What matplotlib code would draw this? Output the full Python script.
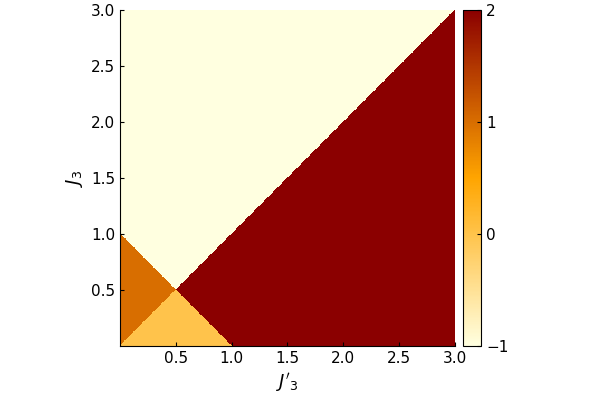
import numpy as np
import matplotlib
matplotlib.use("Agg")
import matplotlib.pyplot as plt
from matplotlib.colors import LinearSegmentedColormap

# Grid of parameter values
J3p = np.arange(0.005, 3.0, 0.01)   # x axis: J'_3
J3 = np.arange(0.005, 3.0, 0.01)    # y axis: J_3

# Phase labels
phase_values = [-1, 0, 1, 2]  # upper-left, lower-small, left-small, lower-right

def phase(x, y):
    if x + y < 1:
        return phase_values[2] if y > x else phase_values[1]
    return phase_values[0] if y > x else phase_values[3]

Z = np.array([[phase(x, y) for x in J3p] for y in J3])

heat = LinearSegmentedColormap.from_list(
    "heat", ["#FFFFE0", "#FFA500", "#8B0000"])

fig = plt.figure(figsize=(6, 4), dpi=100)
ax = fig.add_axes([0.2, 0.135, 0.5583, 0.84])
mesh = ax.pcolormesh(J3p, J3, Z, cmap=heat, vmin=-1, vmax=2, shading="nearest")
ax.set_xlim(0, 3)
ax.set_ylim(0, 3)
ax.set_xticks([0.5, 1.0, 1.5, 2.0, 2.5, 3.0])
ax.set_yticks([0.5, 1.0, 1.5, 2.0, 2.5, 3.0])
ax.tick_params(direction="in", labelsize=11, length=3)
for s in ["top", "right"]:
    ax.spines[s].set_visible(False)
ax.set_xlabel(r"$J'_3$", fontsize=13)
ax.set_ylabel(r"$J_3$", fontsize=13)

cax = fig.add_axes([0.772, 0.135, 0.03, 0.84])
cb = fig.colorbar(mesh, cax=cax)
cb.set_ticks([-1, 0, 1, 2])
cb.ax.tick_params(direction="in", labelsize=11, length=3)
cb.ax.set_yticklabels(["\u22121", "0", "1", "2"])

fig.savefig("out.png", dpi=100)
